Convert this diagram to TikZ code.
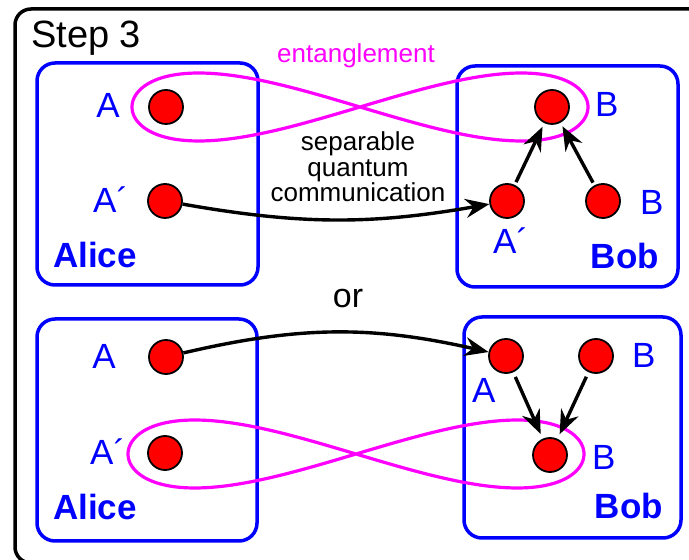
\documentclass[tikz,border=0pt]{standalone}
\usepackage{fontspec}
\setmainfont{Liberation Sans}
\usetikzlibrary{arrows.meta}

\definecolor{entpink}{RGB}{255,0,255}
\definecolor{labblue}{RGB}{0,0,255}
\definecolor{qred}{RGB}{255,0,0}

\tikzset{
  frame/.style={draw=black, line width=3.5pt, rounded corners=16pt},
  party/.style={draw=labblue, line width=3.5pt, rounded corners=18pt},
  qubit/.style={circle, draw=black, line width=1.8pt, fill=qred, minimum size=34pt, inner sep=0pt},
  ent/.style={draw=entpink, line width=3.2pt},
  arr/.style={draw=black, line width=3.4pt, -{Stealth[length=24pt, width=19pt, inset=8pt]}},
  lbl/.style={text=labblue, inner sep=0pt, font=\fontsize{35}{37}\selectfont},
  who/.style={text=labblue, inner sep=0pt, font=\fontsize{35}{37}\selectfont\bfseries},
  plain/.style={inner sep=0pt, font=\fontsize{34}{36}\selectfont},
  small/.style={inner sep=0pt, font=\fontsize{26}{26.5}\selectfont},
}

\begin{document}
\begin{tikzpicture}[x=1pt, y=1pt]
  \useasboundingbox (0,0) rectangle (689,560);

  % outer frame
  \draw[frame] (15,551) rectangle (705,-3);
  \node[plain, anchor=base west, font=\fontsize{38}{40}\selectfont] (title) at (31,512) {Step 3};

  % Alice and Bob laboratories
  \draw[party] (37,497) rectangle (258,275);
  \draw[party] (457,494) rectangle (678,273);
  \draw[party] (37,241) rectangle (257,19);
  \draw[party] (464,243) rectangle (681,22);

  % entanglement loops
  \draw[ent] plot[domain=0:360, samples=181] ({360+228*cos(\x)}, {453+68*sin(\x)*cos(\x)}) -- cycle;
  \draw[ent] plot[domain=0:360, samples=181] ({356+228*cos(\x)}, {106+68*sin(\x)*cos(\x)}) -- cycle;
  \node[small, text=entpink, anchor=base] (entl) at (356,497) {entanglement};

  % qubits, first scheme
  \node[qubit] (a1) at (166,453) {};
  \node[qubit] (a2) at (165,359) {};
  \node[qubit] (b1) at (552,453) {};
  \node[qubit] (b2) at (507,359) {};
  \node[qubit] (b3) at (603,359) {};

  % qubits, second scheme
  \node[qubit] (a3) at (166,203) {};
  \node[qubit] (a4) at (165,107) {};
  \node[qubit] (b4) at (506,204) {};
  \node[qubit] (b5) at (596,204) {};
  \node[qubit] (b6) at (550,105) {};

  % transfers and local operations
  \draw[arr] (a2) to[bend right=10] (b2);
  \draw[arr, shorten >=4pt, shorten <=3pt] (b2) -- (b1);
  \draw[arr, shorten >=4pt, shorten <=3pt] (b3) -- (b1);
  \draw[arr] (a3) to[bend left=13] (b4);
  \draw[arr, shorten >=5pt, shorten <=5pt] (b4) -- (b6);
  \draw[arr, shorten >=5pt, shorten <=5pt] (b5) -- (b6);

  \node[small, anchor=base, align=center] (sqc) at (358,358)
    {separable\\[-1pt]quantum\\[-1pt]communication};

  % labels, first scheme
  \node[lbl, anchor=base] (la1) at (108,442) {A};
  \node[lbl, anchor=base west] (la2) at (93,347) {A´};
  \node[who, anchor=base west] (alice1) at (53,292) {Alice};
  \node[lbl, anchor=base west] (lb1) at (595,443) {B};
  \node[lbl, anchor=base west] (lb2) at (493,306) {A´};
  \node[lbl, anchor=base west] (lb3) at (640,345) {B};
  \node[who, anchor=base east] (bob1) at (659,291) {Bob};

  \node[plain, anchor=base] (or) at (348,252) {or};

  % labels, second scheme
  \node[lbl, anchor=base] (la3) at (104,191) {A};
  \node[lbl, anchor=base west] (la4) at (90,95) {A´};
  \node[who, anchor=base west] (alice2) at (53,40) {Alice};
  \node[lbl, anchor=base west] (lb4) at (472,157) {A};
  \node[lbl, anchor=base west] (lb5) at (632,192) {B};
  \node[lbl, anchor=base west] (lb6) at (592,90) {B};
  \node[who, anchor=base east] (bob2) at (663,41) {Bob};
\end{tikzpicture}
\end{document}
